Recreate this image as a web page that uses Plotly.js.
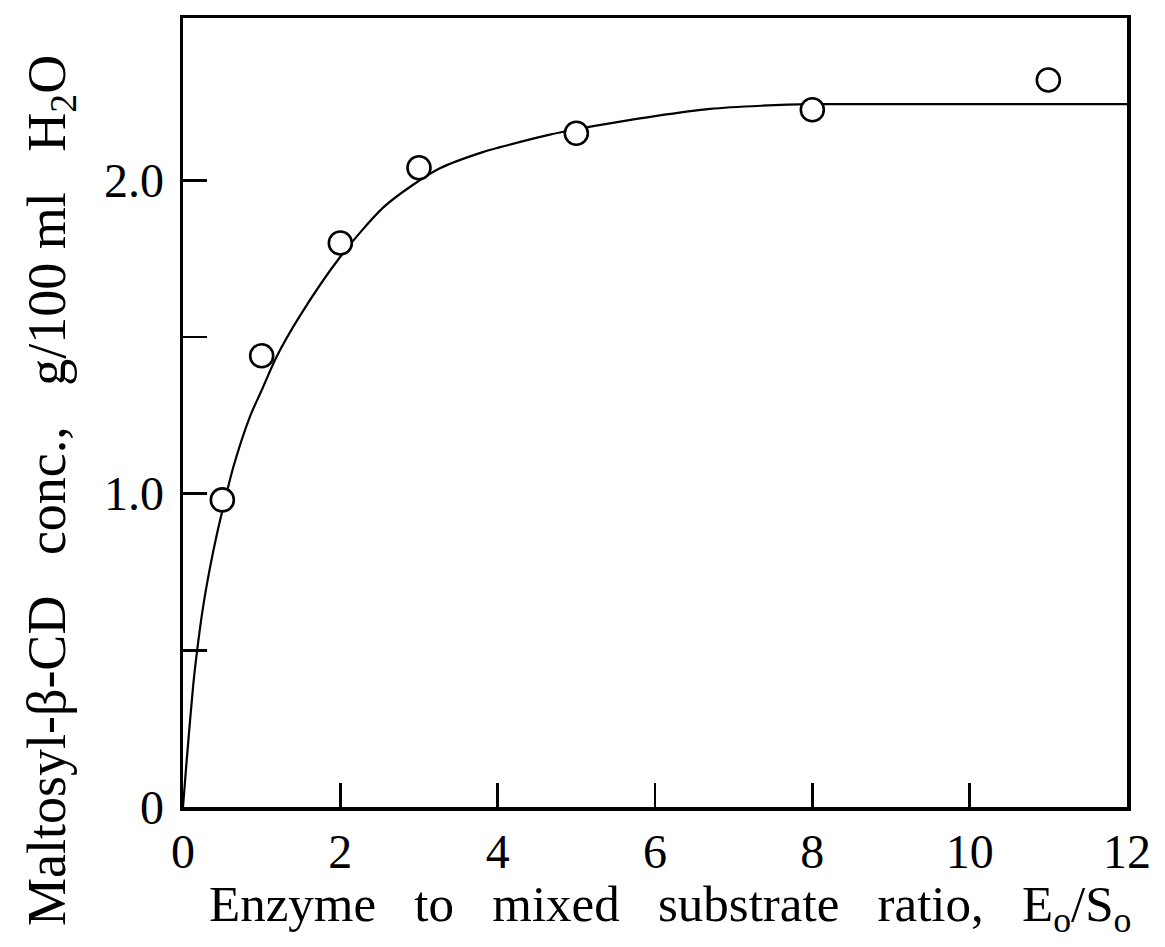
<!DOCTYPE html>
<html>
<head>
<meta charset="utf-8">
<script src="https://cdn.plot.ly/plotly-3.0.1.min.js"></script>
<style>html,body{margin:0;padding:0;background:#fff;}#chart{width:1165px;height:947px;}</style>
</head>
<body>
<div id="chart"></div>
<script>
// Measured data points (open circles)
const ratio = [0.5, 1, 2, 3, 5, 8, 11];
const conc = [0.98, 1.44, 1.80, 2.04, 2.15, 2.225, 2.32];

// Smooth curve drawn through the data
const curveX = [0, 0.04, 0.13, 0.17, 0.25, 0.34, 0.43, 0.5, 0.64, 0.85, 1.0, 1.19, 1.48, 2.0, 2.54, 2.92, 3.26, 3.81, 4.02, 4.65, 5.0, 5.5, 6.0, 6.7, 7.35, 8, 9, 10, 11, 12];
const curveY = [0, 0.128, 0.39, 0.48, 0.63, 0.76, 0.87, 0.945, 1.085, 1.245, 1.33, 1.437, 1.565, 1.756, 1.912, 1.985, 2.038, 2.09, 2.105, 2.145, 2.163, 2.185, 2.205, 2.228, 2.238, 2.243, 2.243, 2.243, 2.243, 2.243];

// Tick labels
const xTickVals = [0, 2, 4, 6, 8, 10, 12];
const xTickText = ['0', '2', '4', '6', '8', '10', '12'];
const yTickVals = [0, 1.0, 2.0];
const yTickText = ['0', '1.0', '2.0'];
const yMinorTickVals = [0.5, 1.5];

const xTitle = 'Enzyme\u00a0\u00a0 to\u00a0\u00a0 mixed\u00a0\u00a0 substrate\u00a0\u00a0 ratio,\u00a0\u00a0 E<sub>o</sub>/S<sub>o</sub>';
const yTitle = 'Maltosyl-\u03b2-CD\u00a0\u00a0 conc.,\u00a0\u00a0 g/100\u00a0ml\u00a0\u00a0 H<sub>2</sub>O';

const serif = 'Liberation Serif';

const traces = [
  {
    x: curveX, y: curveY, type: 'scatter', mode: 'lines',
    line: {color: '#000', width: 2.2, shape: 'spline', smoothing: 0.8},
    hoverinfo: 'skip', showlegend: false
  },
  {
    x: ratio, y: conc, type: 'scatter', mode: 'markers',
    marker: {symbol: 'circle', size: 23, color: '#fff', line: {color: '#000', width: 2.6}},
    showlegend: false
  }
];

const layout = {
  width: 1165, height: 947,
  margin: {l: 183, r: 38, t: 18, b: 140},
  paper_bgcolor: '#fff', plot_bgcolor: '#fff',
  showlegend: false,
  font: {family: serif, color: '#000'},
  xaxis: {
    range: [0, 12], tickmode: 'array', tickvals: xTickVals, ticktext: xTickText,
    ticks: 'inside', ticklen: 24, tickwidth: 2.5, tickcolor: '#000',
    showline: true, linecolor: '#000', linewidth: 3.5, mirror: true,
    showgrid: false, zeroline: false,
    tickfont: {family: serif, size: 48, color: '#000'},
    ticklabelstandoff: 0
  },
  yaxis: {
    range: [0, 2.518], tickmode: 'array', tickvals: yTickVals, ticktext: yTickText,
    ticks: 'inside', ticklen: 24, tickwidth: 2.5, tickcolor: '#000',
    minor: {tickmode: 'array', tickvals: yMinorTickVals, ticks: 'inside', ticklen: 24, tickwidth: 2.5, tickcolor: '#000', showgrid: false},
    showline: true, linecolor: '#000', linewidth: 3.5, mirror: true,
    showgrid: false, zeroline: false,
    tickfont: {family: serif, size: 48, color: '#000'},
    ticklabelstandoff: 6
  },
  annotations: [
    {
      text: xTitle, xref: 'paper', yref: 'paper', x: 0.516, y: -0.128,
      xanchor: 'center', yanchor: 'middle', showarrow: false,
      font: {family: serif, size: 51, color: '#000'}
    },
    {
      text: yTitle, xref: 'paper', yref: 'paper', x: -0.1404, y: 0.401,
      xanchor: 'center', yanchor: 'middle', showarrow: false, textangle: -90,
      font: {family: serif, size: 54, color: '#000'}
    }
  ]
};

Plotly.newPlot('chart', traces, layout, {displayModeBar: false, staticPlot: true});
</script>
</body>
</html>
